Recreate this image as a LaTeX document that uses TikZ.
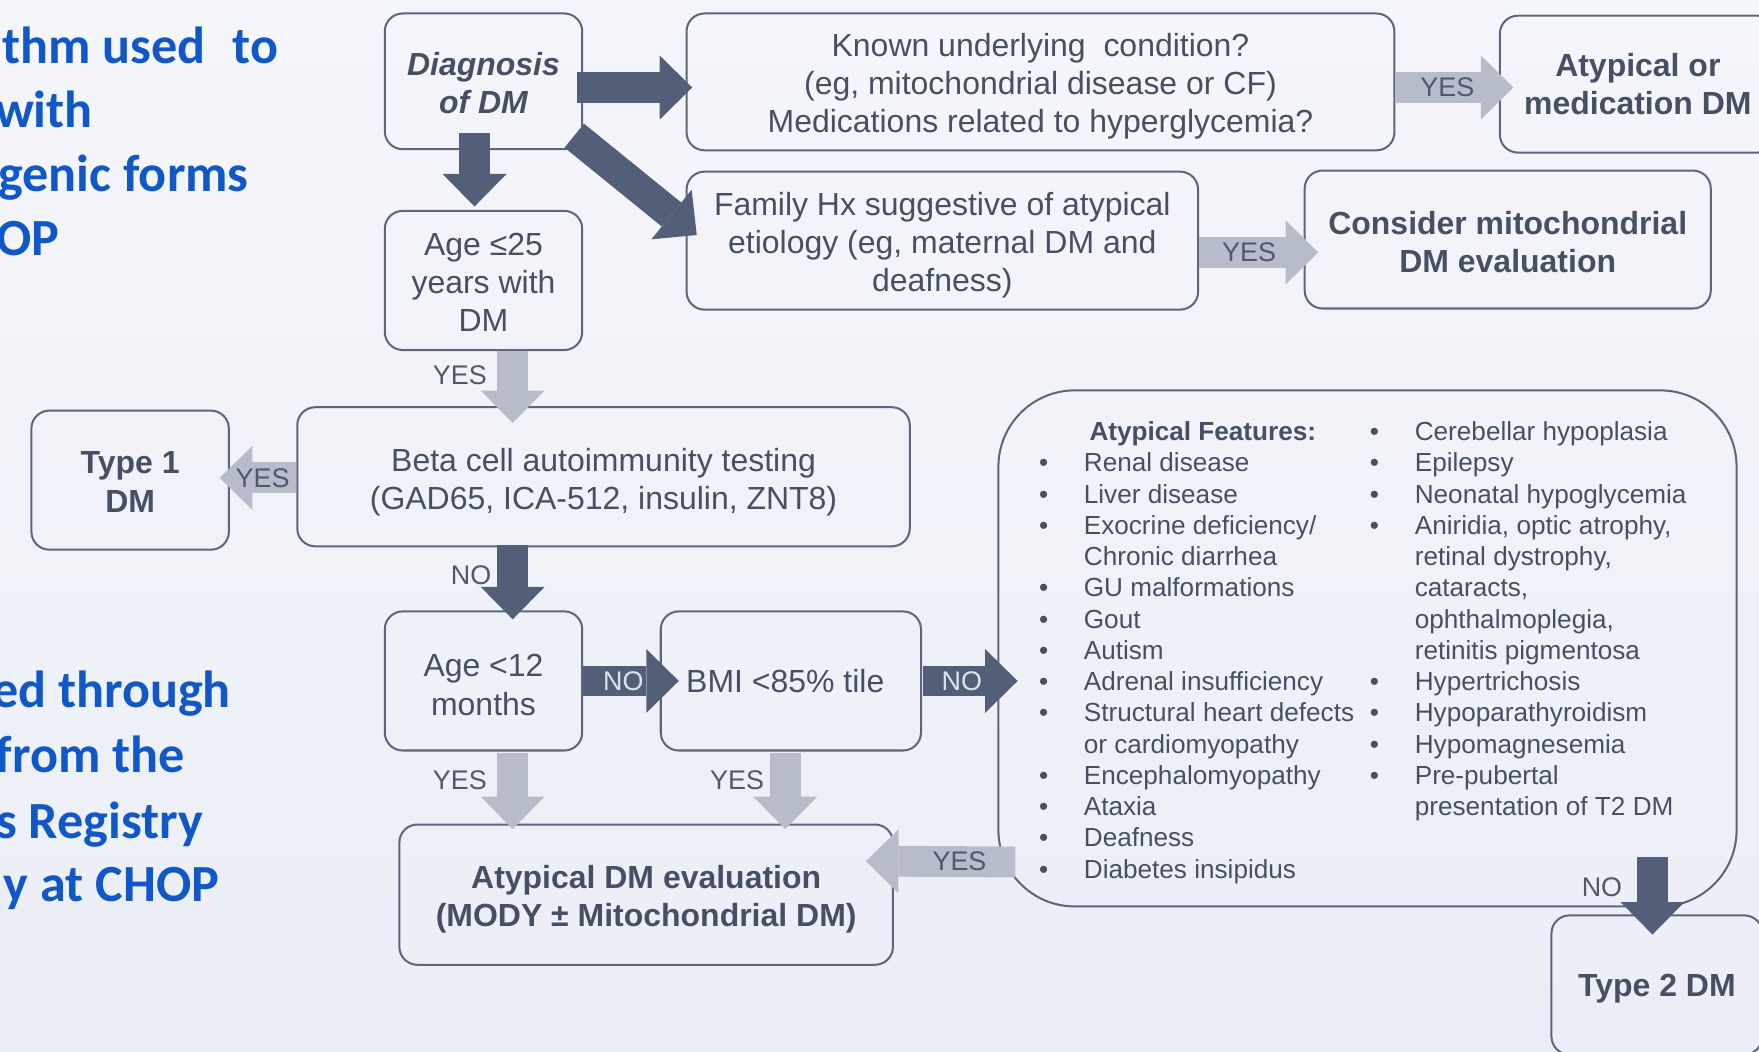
\documentclass[tikz,border=0pt]{standalone}
\usepackage{fontspec}
\setmainfont{Liberation Sans}
\newfontfamily\calibfont{Carlito}
\usetikzlibrary{arrows.meta,calc}
\definecolor{bgtop}{RGB}{245,246,251}
\definecolor{bgbot}{RGB}{235,238,246}
\definecolor{boxline}{RGB}{92,102,124}
\definecolor{boxtext}{RGB}{70,80,100}
\definecolor{darkarr}{RGB}{83,95,121}
\definecolor{lightarr}{RGB}{182,188,201}
\definecolor{bluetxt}{RGB}{16,88,200}
\definecolor{darklbl}{RGB}{222,226,234}
\definecolor{lbltext}{RGB}{80,89,108}
\newcommand{\ts}[1]{\rule{0pt}{#1pt}}
\begin{document}
\begin{tikzpicture}[x=1pt,y=-1pt,
  box/.style={draw=boxline, line width=1.8pt, rounded corners=16pt, inner sep=0pt,
    align=center, text=boxtext, font=\fontsize{28.5}{34}\selectfont},
  boxb/.style={box, font=\fontsize{28.5}{34}\selectfont\bfseries},
  sz/.style 2 args={minimum width=#1, minimum height=#2},
  darr/.style={draw=darkarr, line width=27.5pt, -{Triangle[width=57pt,length=29pt,line width=0pt]}},
  larr/.style={draw=lightarr, line width=27.5pt, -{Triangle[width=57pt,length=29pt,line width=0pt]}},
  inl/.style={font=\fontsize{24}{24}\selectfont, inner sep=0pt, outer sep=0pt, text=lbltext},
  inld/.style={inl, text=darklbl},
  outl/.style={font=\fontsize{24}{24}\selectfont, inner sep=0pt, outer sep=0pt, text=lbltext},
  bluet/.style={font=\calibfont\bfseries\fontsize{46.5}{56}\selectfont, text=bluetxt,
    anchor=base east, inner sep=0pt},
  featcol/.style={inner sep=0pt, anchor=north west, text=boxtext,
    font=\fontsize{23.3}{27.86}\selectfont}
]
\useasboundingbox (0,0) rectangle (1568,937);
\fill[top color=bgtop,bottom color=bgbot] (0,0) rectangle (1568,937);

% left blue text
\node[bluet] (t1) at (248,57) {thm used\hspace{24pt}to};
\node[bluet] (t2) at (83,114) {with};
\node[bluet] (t3) at (222,171) {genic forms};
\node[bluet] (t4) at (53,228) {OP};
\node[bluet] (t5) at (206,631) {ed through};
\node[bluet] (t6) at (165,689) {from the};
\node[bluet] (t7) at (181,747) {s Registry};
\node[bluet] (t8) at (195.5,804) {y at CHOP};

% boxes
\node[box, sz={176pt}{121pt}, font=\fontsize{28.5}{34}\selectfont\bfseries\itshape] (diag) at (431,72.5) {\ts{24}Diagnosis\\of DM};
\node[box, sz={631pt}{122pt}] (known) at (927.5,73) {\ts{28}Known underlying\ \ condition?\\(eg, mitochondrial disease or CF)\\Medications related to hyperglycemia?};
\node[boxb, sz={246pt}{122pt}] (atmed) at (1460,75) {Atypical or\\medication DM};
\node[box, sz={456pt}{123pt}] (family) at (840,214.5) {\ts{29}Family Hx suggestive of atypical\\etiology (eg, maternal DM and\\deafness)};
\node[boxb, sz={362pt}{123pt}] (consider) at (1344,213.5) {\ts{25}Consider mitochondrial\\DM evaluation};
\node[box, sz={176pt}{124pt}] (age25) at (431,250) {\ts{23}Age ≤25\\years with\\DM};
\node[box, sz={546pt}{124pt}] (beta) at (538,425) {\ts{30}Beta cell autoimmunity testing\\(GAD65, ICA-512, insulin, ZNT8)};
\node[boxb, sz={176pt}{124pt}] (type1) at (116,428) {\ts{23}Type 1\\DM};
\node[box, sz={176pt}{124pt}] (age12) at (431,607) {\ts{27}Age <12\\months};
\node[box, sz={232pt}{124pt}] (bmi) at (705,607) {BMI <85\% tile\hspace*{10pt}};
\node[box, sz={658pt}{460pt}, rounded corners=68pt] (feat) at (1219,578) {};
\node[boxb, sz={440pt}{125pt}] (eval) at (576,797.5) {\ts{29}Atypical DM evaluation\\(MODY ± Mitochondrial DM)};
\node[boxb, sz={188pt}{124pt}] (type2) at (1477,878) {\ts{27}Type 2 DM};

% atypical features list
\node[featcol] (featL) at (926,373) {\begin{tabular}{@{}p{40pt}@{}l@{}}
 & \hspace{5pt}\textbf{Atypical Features:}\\
• & Renal disease\\
• & Liver disease\\
• & Exocrine deficiency/\\
 & Chronic diarrhea\\
• & GU malformations\\
• & Gout\\
• & Autism\\
• & Adrenal insufficiency\\
• & Structural heart defects\\
 & or cardiomyopathy\\
• & Encephalomyopathy\\
• & Ataxia\\
• & Deafness\\
• & Diabetes insipidus
\end{tabular}};
\node[featcol] (featR) at (1221,373) {\begin{tabular}{@{}p{40pt}@{}l@{}}
• & Cerebellar hypoplasia\\
• & Epilepsy\\
• & Neonatal hypoglycemia\\
• & Aniridia, optic atrophy,\\
 & retinal dystrophy,\\
 & cataracts,\\
 & ophthalmoplegia,\\
 & retinitis pigmentosa\\
• & Hypertrichosis\\
• & Hypoparathyroidism\\
• & Hypomagnesemia\\
• & Pre-pubertal\\
 & presentation of T2 DM
\end{tabular}};

% arrows
\draw[darr] ($(diag.east)+(-6,5.5)$) -- ($(known.west)+(6,5)$);
\draw[darr] ($(diag.south east)+(-8,-13)$) -- ($(family.west)+(10,-5)$);
\draw[darr] ($(diag.south)+(-8,-15)$) -- ($(age25.north)+(-8,-3)$);
\draw[larr] ($(known.east)+(0,5)$) -- node[inl, pos=0.44] (l4) {YES} ($(atmed.west)+(13,3)$);
\draw[larr] ($(family.east)+(0,10.5)$) -- node[inl, pos=0.42] (l5) {YES} ($(consider.west)+(13,11.5)$);
\draw[larr] ($(age25.south)+(26,0)$) -- node[outl, pos=0.33, left=23pt] (l6) {YES} ($(beta.north)+(-81,15)$);
\draw[larr] ($(beta.west)+(0,1)$) -- node[inl, pos=0.44] (l7) {YES} ($(type1.east)+(-9,-2)$);
\draw[darr] ($(beta.south)+(-81,-2)$) -- node[outl, pos=0.41, left=19pt] (l8) {NO} ($(age12.north)+(26,8)$);
\draw[darr] (age12.east) -- node[inld, pos=0.42] (l9) {NO} ($(bmi.west)+(17,0)$);
\draw[darr] ($(bmi.east)+(1,0)$) -- node[inld, pos=0.41] (l10) {NO} ($(feat.west)+(18,29)$);
\draw[larr] ($(age12.south)+(26,1)$) -- node[outl, pos=0.36, left=23pt] (l11) {YES} ($(eval.north)+(-119,5)$);
\draw[larr] ($(bmi.south)+(-5,1)$) -- node[outl, pos=0.36, left=19pt] (l12) {YES} ($(eval.north)+(124,5)$);
\draw[larr] ($(feat.south west)+(16,-40.5)$) -- node[inl, pos=0.374] (l13) {YES} ($(eval.east)+(-25,-30)$);
\draw[darr] ($(feat.south)+(254,-45)$) -- node[outl, pos=0.39, left=27pt] (l14) {NO} ($(type2.north)+(-4,18)$);
\end{tikzpicture}
\end{document}
